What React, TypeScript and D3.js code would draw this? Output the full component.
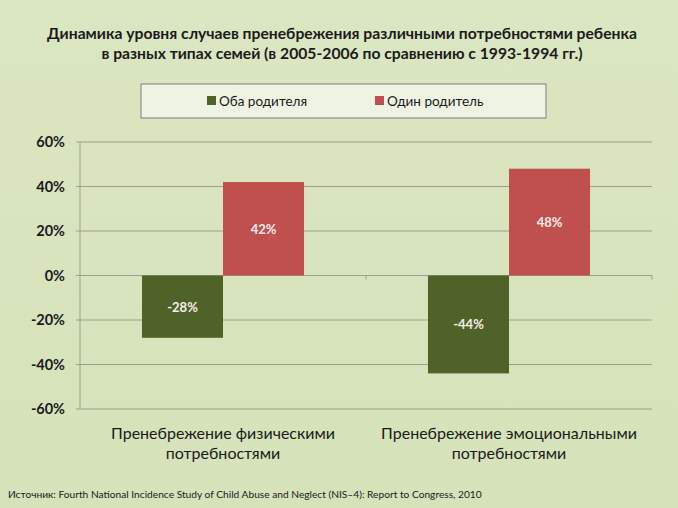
import React from "react";
import * as d3 from "d3";

const categories = ["Пренебрежение физическими|потребностями", "Пренебрежение эмоциональными|потребностями"];
const seriesNames = ["Оба родителя", "Один родитель"];
const bothParents = [-28, -44];
const oneParent = [42, 48];
const yTicks = [-60, -40, -20, 0, 20, 40, 60];
const titleLines = [
  "Динамика уровня случаев пренебрежения различными потребностями ребенка",
  "в разных типах семей (в 2005-2006  по сравнению с 1993-1994 гг.)",
];
const colors = ["#4f6228", "#c0504d"];

const W = 678, H = 508;
const plot = { left: 80, right: 652, top: 142, bottom: 409 };
const font = "Lato, 'Open Sans', sans-serif";

export default function App() {
  const y = d3.scaleLinear().domain([-60, 60]).range([plot.bottom, plot.top]);
  const x0 = d3.scaleBand().domain(categories).range([plot.left, plot.right]).paddingInner(0).paddingOuter(0);
  const x1 = d3.scaleBand().domain(seriesNames).range([0, x0.bandwidth()]).paddingInner(0).paddingOuter(0.765);
  const series = [bothParents, oneParent];

  return (
    <svg width={W} height={H} style={{ position: "absolute", left: 0, top: 0 }}>
      <defs>
        <linearGradient id="bg" x1="0" y1="0" x2="0" y2="1">
          <stop offset="0" stopColor="#dbe6c2" />
          <stop offset="1" stopColor="#d6e2b9" />
        </linearGradient>
      </defs>
      <rect width={W} height={H} fill="url(#bg)" />
      {titleLines.map((t, i) => (
        <text key={i} x={342} y={39 + i * 20} textAnchor="middle" fontFamily={font} fontWeight="bold" fontSize={15.7} fill="#1a1a1a">
          {t}
        </text>
      ))}
      {/* legend */}
      <rect x={141} y={84} width={405} height={34} fill="#eef3e4" stroke="#7f7f7f" strokeWidth={1} />
      {seriesNames.map((s, i) => (
        <g key={s} transform={`translate(${[207, 375][i]},101)`}>
          <rect x={0} y={-5} width={9} height={9} fill={colors[i]} />
          <text x={12} y={4.5} fontFamily={font} fontSize={13.5} fill="#1a1a1a">{s}</text>
        </g>
      ))}
      {/* gridlines */}
      {yTicks.map((t) => (
        <g key={t}>
          <line x1={plot.left - 4} x2={plot.right} y1={y(t)} y2={y(t)} stroke="#9aa08c" strokeWidth={1} />
          <text x={65} y={y(t) + 5} textAnchor="end" fontFamily={font} fontWeight="bold" fontSize={14.5} fill="#1a1a1a">
            {t}%
          </text>
        </g>
      ))}
      <line x1={plot.left} x2={plot.left} y1={plot.top} y2={plot.bottom} stroke="#9aa08c" />
      {categories.map((c) => (
        <line key={c} x1={(x0(c) as number) + x0.bandwidth()} x2={(x0(c) as number) + x0.bandwidth()} y1={y(0)} y2={y(0) + 4} stroke="#9aa08c" />
      ))}
      {/* bars */}
      {categories.map((c, ci) =>
        series.map((vals, si) => {
          const v = vals[ci];
          const bx = (x0(c) as number) + (x1(seriesNames[si]) as number);
          const top = y(Math.max(0, v));
          const bot = y(Math.min(0, v));
          return (
            <g key={`${ci}-${si}`}>
              <rect x={bx} y={top} width={x1.bandwidth()} height={bot - top} fill={colors[si]} />
              <text x={bx + x1.bandwidth() / 2} y={(top + bot) / 2 + 5} textAnchor="middle" fontFamily={font} fontWeight="bold" fontSize={13} fill="#f6eeee">
                {v}%
              </text>
            </g>
          );
        })
      )}
      {/* category labels */}
      {categories.map((c) => {
        const cx = (x0(c) as number) + x0.bandwidth() / 2;
        return c.split("|").map((line, li) => (
          <text key={c + li} x={cx} y={439 + li * 20} textAnchor="middle" fontFamily={font} fontSize={16} fill="#1a1a1a">
            {line}
          </text>
        ));
      })}
      <text x={8} y={498} fontFamily={font} fontSize={10.2} fill="#1a1a1a">
        Источник: Fourth National Incidence Study of Child Abuse and Neglect (NIS–4): Report to Congress, 2010
      </text>
    </svg>
  );
}
